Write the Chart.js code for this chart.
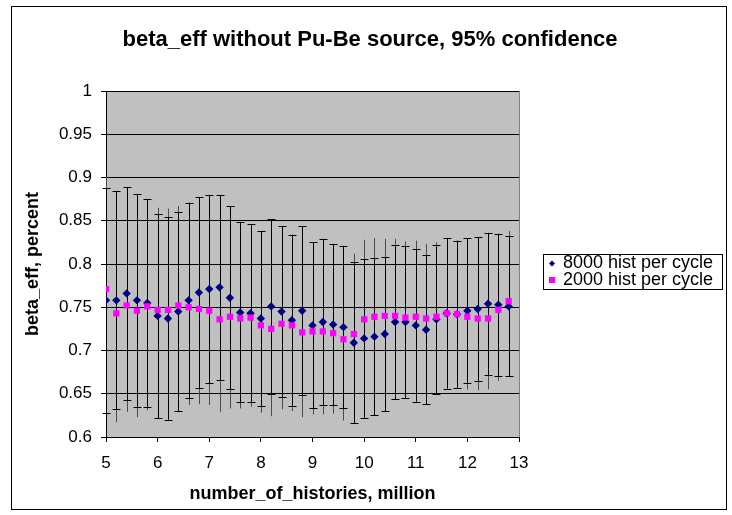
<!DOCTYPE html>
<html>
<head>
<meta charset="utf-8">
<script src="https://cdn.jsdelivr.net/npm/chart.js@4.4.1/dist/chart.umd.min.js"></script>
<style>
  html, body { margin: 0; padding: 0; background: #fff; }
  #wrap { width: 732px; height: 515px; position: relative; }
</style>
</head>
<body>
<div id="wrap"><canvas id="betaChart"></canvas></div>
<script>
// number of histories (million)
const histories = [5.0, 5.2, 5.4, 5.6, 5.8, 6.0, 6.2, 6.4, 6.6, 6.8,
                   7.0, 7.2, 7.4, 7.6, 7.8, 8.0, 8.2, 8.4, 8.6, 8.8,
                   9.0, 9.2, 9.4, 9.6, 9.8, 10.0, 10.2, 10.4, 10.6, 10.8,
                   11.0, 11.2, 11.4, 11.6, 11.8, 12.0, 12.2, 12.4, 12.6, 12.8];

const beta8000 = [0.758, 0.758, 0.766, 0.758, 0.755, 0.740, 0.737, 0.745, 0.758, 0.767,
                  0.771, 0.773, 0.761, 0.744, 0.743, 0.737, 0.751, 0.745, 0.735, 0.746,
                  0.729, 0.733, 0.730, 0.727, 0.709, 0.714, 0.716, 0.719, 0.733, 0.733,
                  0.729, 0.724, 0.736, 0.743, 0.742, 0.746, 0.748, 0.754, 0.753, 0.751];

const beta2000 = [0.771, 0.743, 0.752, 0.746, 0.751, 0.747, 0.747, 0.752, 0.750, 0.748,
                  0.746, 0.736, 0.739, 0.737, 0.738, 0.729, 0.725, 0.731, 0.729, 0.721,
                  0.722, 0.722, 0.720, 0.713, 0.719, 0.736, 0.739, 0.740, 0.740, 0.738,
                  0.739, 0.737, 0.739, 0.743, 0.742, 0.739, 0.737, 0.737, 0.747, 0.757];

// half width of the 95% interval (same for both series)
const conf95 = [0.130, 0.126, 0.123, 0.123, 0.120, 0.118, 0.117, 0.115, 0.113, 0.110,
                0.109, 0.107, 0.106, 0.104, 0.103, 0.101, 0.101, 0.099, 0.099, 0.098,
                0.096, 0.096, 0.093, 0.094, 0.093, 0.092, 0.091, 0.089, 0.089, 0.088,
                0.088, 0.086, 0.086, 0.087, 0.085, 0.084, 0.083, 0.082, 0.082, 0.081];

const seriesNames = ['8000 hist per cycle', '2000 hist per cycle'];
const chartTitle = 'beta_eff without Pu-Be source, 95% confidence';

const FONT = "'Liberation Sans', Arial, sans-serif";
Chart.defaults.font.family = FONT;
Chart.defaults.color = '#000';

const toPoints = (ys) => histories.map((x, i) => ({ x: x, y: ys[i] }));

// grey plot area, outer frame, title centred on the whole picture
const frame = {
  id: 'frame',
  beforeDraw(chart) {
    const c = chart.ctx, a = chart.chartArea;
    c.save();
    c.fillStyle = '#fff';
    c.fillRect(0, 0, chart.width, chart.height);
    c.strokeStyle = '#000';
    c.lineWidth = 1;
    c.strokeRect(11.5, 6.5, 715, 503);
    c.fillStyle = '#c0c0c0';
    c.fillRect(a.left, a.top, a.right - a.left, a.bottom - a.top);
    c.fillStyle = '#000';
    c.font = 'bold 22px ' + FONT;
    c.textAlign = 'center';
    c.textBaseline = 'middle';
    c.fillText(chartTitle, chart.width / 2 + 4, 40);
    c.restore();
  },
  afterDraw(chart) {
    const c = chart.ctx, a = chart.chartArea;
    c.save();
    c.strokeStyle = '#808080';
    c.lineWidth = 1;
    c.beginPath();
    c.moveTo(Math.round(a.right) + 0.5, a.top);
    c.lineTo(Math.round(a.right) + 0.5, a.bottom);
    c.stroke();
    c.restore();
  }
};

// vertical error bars; caps only on the 8000 series, as in the original
const errorBars = {
  id: 'errorBars',
  beforeDatasetsDraw(chart) {
    const c = chart.ctx, xs = chart.scales.x, ys = chart.scales.y;
    const sets = [[beta2000, '#4a4a4a', false], [beta8000, '#000', true]];
    c.save();
    c.lineWidth = 1;
    sets.forEach(([vals, col, caps]) => {
      c.strokeStyle = col;
      vals.forEach((v, i) => {
        const px = Math.round(xs.getPixelForValue(histories[i])) + 0.5;
        const top = ys.getPixelForValue(v + conf95[i]);
        const bot = ys.getPixelForValue(v - conf95[i]);
        c.beginPath();
        c.moveTo(px, top); c.lineTo(px, bot);
        if (caps) {
          c.moveTo(px - 4, Math.round(top) + 0.5); c.lineTo(px + 4, Math.round(top) + 0.5);
          c.moveTo(px - 4, Math.round(bot) + 0.5); c.lineTo(px + 4, Math.round(bot) + 0.5);
        }
        c.stroke();
      });
    });
    c.restore();
  }
};

// boxed legend to the right of the plot
const boxLegend = {
  id: 'boxLegend',
  afterDraw(chart) {
    const c = chart.ctx, a = chart.chartArea;
    const left = a.right + 24, top = 254, w = 179, h = 35;
    c.save();
    c.fillStyle = '#fff';
    c.fillRect(left, top, w, h);
    c.strokeStyle = '#000';
    c.lineWidth = 1;
    c.strokeRect(left + 0.5, top + 0.5, w, h);
    c.font = '18px ' + FONT;
    c.textBaseline = 'middle';
    chart.data.datasets.forEach((ds, i) => {
      const y = top + 9.5 + i * 16.5;
      c.fillStyle = ds.backgroundColor;
      c.beginPath();
      if (ds.pointStyle === 'rectRot') {
        c.moveTo(left + 9, y - 3); c.lineTo(left + 12, y);
        c.lineTo(left + 9, y + 3); c.lineTo(left + 6, y);
      } else {
        c.rect(left + 6, y - 3, 6, 6);
      }
      c.fill();
      c.fillStyle = '#000';
      c.fillText(ds.label, left + 20, y);
    });
    c.restore();
  }
};

new Chart(document.getElementById('betaChart'), {
  type: 'scatter',
  data: {
    datasets: [
      {
        label: seriesNames[0],
        data: toPoints(beta8000),
        pointStyle: 'rectRot',
        pointRadius: 4.2,
        backgroundColor: '#000080',
        borderColor: '#000080',
        borderWidth: 0,
        order: 1
      },
      {
        label: seriesNames[1],
        data: toPoints(beta2000),
        pointStyle: 'rect',
        pointRadius: 4.4,
        backgroundColor: '#ff00ff',
        borderColor: '#ff00ff',
        borderWidth: 0,
        order: 0
      }
    ]
  },
  options: {
    responsive: true,
    maintainAspectRatio: false,
    animation: false,
    layout: { padding: { left: 0, right: 213, top: 91, bottom: 0 } },
    plugins: {
      legend: { display: false },
      tooltip: { enabled: false },
      title: { display: false }
    },
    scales: {
      x: {
        type: 'linear',
        min: 5,
        max: 13,
        ticks: { stepSize: 1, font: { size: 17 }, padding: 11, color: '#000' },
        grid: { drawOnChartArea: false, drawTicks: true, tickLength: 5, color: '#000' },
        border: { color: '#000' },
        title: {
          display: true,
          text: 'number_of_histories, million',
          font: { size: 18, weight: 'bold' },
          padding: { top: 0, bottom: 10 }
        },
        afterFit(scale) { scale.height = 78; }
      },
      y: {
        min: 0.6,
        max: 1,
        ticks: {
          stepSize: 0.05, font: { size: 17 }, padding: 9, color: '#000',
          callback: (v) => String(Number(v.toFixed(2)))
        },
        grid: { color: '#000', drawTicks: true, tickLength: 5 },
        border: { color: '#000' },
        title: {
          display: true,
          text: 'beta_eff, percent',
          font: { size: 18, weight: 'bold' },
          padding: { top: 22, bottom: 0 }
        },
        afterFit(scale) { scale.width = 106; }
      }
    }
  },
  plugins: [frame, errorBars, boxLegend]
});
</script>
</body>
</html>
